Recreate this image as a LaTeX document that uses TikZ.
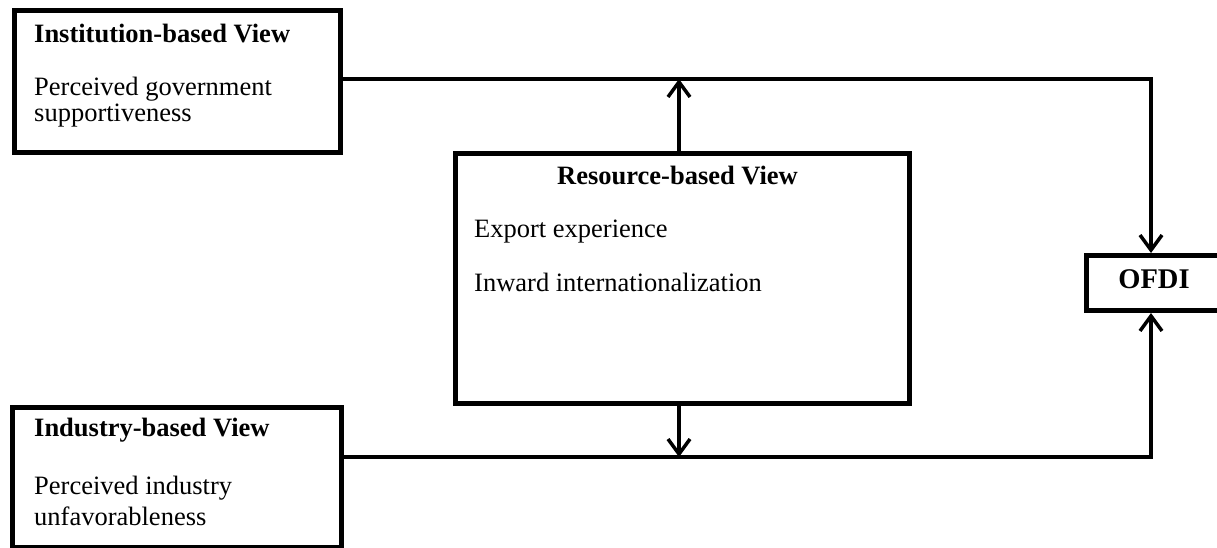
\documentclass[tikz,border=0pt]{standalone}
\usepackage{fontspec}
\setmainfont{Liberation Serif}
\usetikzlibrary{arrows.meta}
\begin{document}
\begin{tikzpicture}[x=1pt,y=-1pt,
  box/.style={draw=black,line width=5pt,fill=white,inner sep=0pt},
  txt/.style={anchor=base west,inner sep=0pt,font=\fontsize{26.5}{30}\selectfont},
  ttl/.style={txt,font=\fontsize{26.5}{30}\selectfont\bfseries},
  conn/.style={line width=4pt,line join=miter},
  tip/.style={-{Straight Barb[length=15pt,width=22pt,line width=3.5pt]}},
  arr/.style={line width=3.5pt,tip}]
\clip (0,0) rectangle (1217,548);
\fill[white] (0,0) rectangle (1217,548);
% boxes
\node[box,anchor=north west,minimum width=326pt,minimum height=142pt] (inst) at (12,8) {};
\node[box,anchor=north west,minimum width=454pt,minimum height=250pt] (res) at (453,151) {};
\node[box,anchor=north west,minimum width=329pt,minimum height=140pt] (ind) at (10,405) {};
\node[box,anchor=north west,minimum width=150pt,minimum height=55pt] (ofdi) at (1084,253) {};
% texts
\node[ttl] (t1) at (34,43) {Institution-based View};
\node[txt] (t1a) at (34,96) {Perceived government};
\node[txt] (t1b) at (34,122) {supportiveness};
\node[ttl] (t2) at (557,185) {Resource-based View};
\node[txt] (t2a) at (474,237) {Export experience};
\node[txt] (t2b) at (474,291) {Inward internationalization};
\node[ttl] (t3) at (34,436) {Industry-based View};
\node[txt] (t3a) at (34,494) {Perceived industry};
\node[txt] (t3b) at (34,525) {unfavorableness};
\node[ttl,anchor=base,font=\fontsize{28.5}{32}\selectfont\bfseries] (t4) at (1154,288) {OFDI};
% connectors
\coordinate (topR) at (1151,79);
\coordinate (botR) at (1151,457);
\coordinate (upT) at (679,79);
\coordinate (dnB) at (679,457);
\draw[conn,tip] (inst.east |- topR) -- (topR) -- (topR |- ofdi.north);
\draw[conn,tip] (ind.east |- botR) -- (botR) -- (botR |- ofdi.south);
\draw[arr] (upT |- res.north) -- (upT);
\draw[arr] (679,404) -- (dnB);
\end{tikzpicture}
\end{document}
